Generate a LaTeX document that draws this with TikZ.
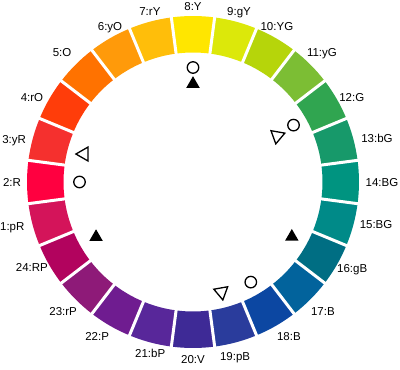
\documentclass[tikz,border=0pt]{standalone}
\usepackage{fontspec}
\setmainfont{Liberation Sans}
\usetikzlibrary{calc, positioning, shapes.geometric}

\definecolor{hueA}{HTML}{D4145A}
\definecolor{hueB}{HTML}{FF0040}
\definecolor{hueC}{HTML}{F5302E}
\definecolor{hueD}{HTML}{FF3D0A}
\definecolor{hueE}{HTML}{FF7200}
\definecolor{hueF}{HTML}{FF9A0A}
\definecolor{hueG}{HTML}{FFBE0A}
\definecolor{hueH}{HTML}{FFE600}
\definecolor{hueI}{HTML}{DCE80A}
\definecolor{hueJ}{HTML}{B6D50A}
\definecolor{hueK}{HTML}{7CBE34}
\definecolor{hueL}{HTML}{30A550}
\definecolor{hueM}{HTML}{17996A}
\definecolor{hueN}{HTML}{009480}
\definecolor{hueO}{HTML}{008A88}
\definecolor{hueP}{HTML}{006E83}
\definecolor{hueQ}{HTML}{02639C}
\definecolor{hueR}{HTML}{0C47A2}
\definecolor{hueS}{HTML}{2A3C9C}
\definecolor{hueT}{HTML}{3E2A96}
\definecolor{hueU}{HTML}{58279A}
\definecolor{hueV}{HTML}{6F1C90}
\definecolor{hueW}{HTML}{8E1A78}
\definecolor{hueX}{HTML}{B2035E}

\begin{document}
\begin{tikzpicture}[x=1pt, y=1pt,
  huename/.style={inner sep=0pt, text height=8.2pt, text depth=0pt, font=\fontsize{11.5}{12}\selectfont},
  ring/.style={draw, circle, line width=1.3pt, minimum size=11.5pt, inner sep=0pt},
  tri/.style={regular polygon, regular polygon sides=3, inner sep=0pt},
  opentri/.style={tri, draw, line width=1.3pt, minimum size=16.2pt},
  solidtri/.style={tri, fill=black, minimum size=15.6pt}]

\useasboundingbox (0,0) rectangle (400,370);
\coordinate (centre) at (193,188);

% hue segments
\foreach \k/\col in {1/hueA, 2/hueB, 3/hueC, 4/hueD, 5/hueE, 6/hueF, 7/hueG, 8/hueH,
    9/hueI, 10/hueJ, 11/hueK, 12/hueL, 13/hueM, 14/hueN, 15/hueO, 16/hueP,
    17/hueQ, 18/hueR, 19/hueS, 20/hueT, 21/hueU, 22/hueV, 23/hueW, 24/hueX} {
  \pgfmathsetmacro{\a}{210-15*\k}
  \fill[\col] (centre) ++(\a-7.5:129.5) arc[start angle=\a-7.5, end angle=\a+7.5, radius=129.5]
    -- ($(centre)+(\a+7.5:166)$) arc[start angle=\a+7.5, end angle=\a-7.5, radius=166] -- cycle;
}
\foreach \k in {1,...,24} {
  \pgfmathsetmacro{\a}{217.5-15*\k}
  \draw[white, line width=3pt] ($(centre)+(\a:127)$) -- ($(centre)+(\a:169)$);
}

% hue names
\foreach \k/\txt/\ang/\rad in {1/1:pR/193.7/186, 2/2:R/180/181, 3/3:yR/166.5/184,
    4/4:rO/152.2/182, 5/5:O/135.2/184.6, 6/6:yO/118/176.7, 7/7:rY/104.2/175.8,
    8/8:Y/90/176, 9/9:gY/74.9/176.6, 10/10:YG/61.7/177, 11/11:yG/45.2/183,
    12/12:G/28.1/180, 13/13:bG/13.2/189, 14/14:BG/0/189, 15/15:BG/-12.9/187.8,
    16/16:gB/-28.4/181, 17/17:B/-44.8/183, 18/18:B/-58.2/182, 19/19:pB/-76.4/179,
    20/20:V/-90/177.5, 21/21:bP/-104/177, 22/22:P/-121.8/182, 23/23:rP/-135.2/183,
    24/24:RP/-152/182.5}
  \node[huename] (name\k) at ($(centre)+(\ang:\rad)$) {\txt};

% marks
\node[ring] (ringY) at ($(centre)+(90:114.5)$) {};
\node[ring] (ringR) at ($(centre)+(180:113.5)$) {};
\node[ring] (ringG) at ($(centre)+(29.5:115.5)$) {};
\node[ring] (ringB) at ($(centre)+(-60:115.6)$) {};

\node[solidtri] (solidY) at ($(centre)+(90:98)$) {};
\node[solidtri] (solidRP) at ($(centre)+(209.6:111.5)$) {};
\node[solidtri] (solidgB) at ($(centre)+(-29:113)$) {};

\node[opentri, shape border rotate=90] (openyR) at ($(centre)+(165.6:112.5)$) {};
\node[opentri, shape border rotate=170] (openG) at ($(centre)+(28.7:96)$) {};
\node[opentri, shape border rotate=190] (openpB) at ($(centre)+(-75.5:113.6)$) {};

\end{tikzpicture}
\end{document}
